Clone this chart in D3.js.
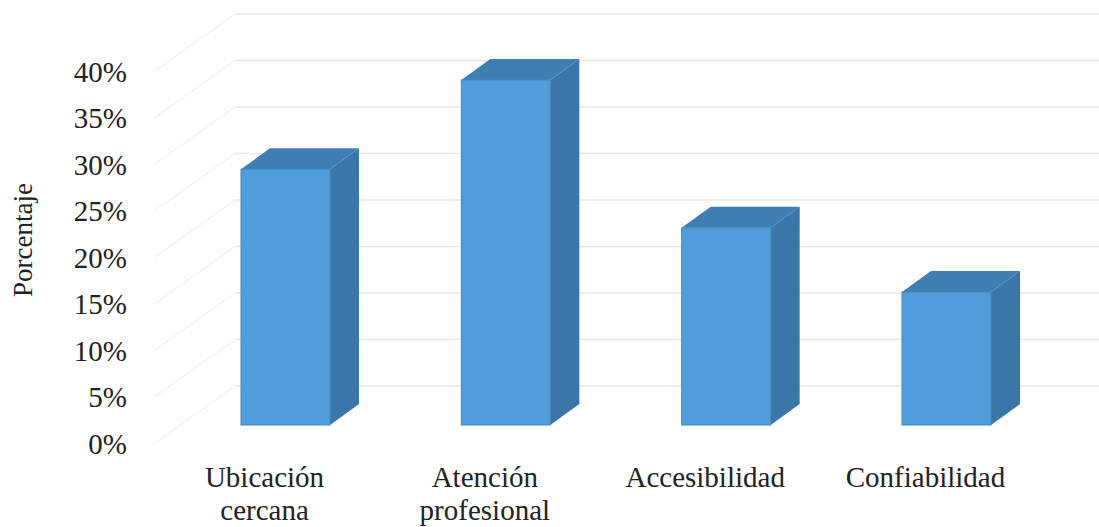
<!DOCTYPE html>
<html>
<head>
<meta charset="utf-8">
<script src="https://cdn.jsdelivr.net/npm/d3@7/dist/d3.min.js"></script>
<style>
html,body{margin:0;padding:0;background:#fff;}
svg{display:block;}
text{font-family:"Liberation Serif",serif;fill:#222;}
</style>
</head>
<body>
<svg id="chart" width="1099" height="527"></svg>
<script>
const categories = ["Ubicación cercana", "Atención profesional", "Accesibilidad", "Confiabilidad"];
const categoryLines = [["Ubicación", "cercana"], ["Atención", "profesional"], ["Accesibilidad"], ["Confiabilidad"]];
const percentages = [27.5, 37.1, 21.2, 14.3];
const tickValues = [0, 5, 10, 15, 20, 25, 30, 35, 40];
const axisTitle = "Porcentaje";

const svg = d3.select("#chart");

// Back wall scale; the bars and floor are projected forward from it.
const wallY = d3.scaleLinear().domain([0, 40]).range([386, 14]);
const x = d3.scaleBand().domain(categories).range([241, 991]).paddingInner(0.596).paddingOuter(0);

const wallLeft = 235, wallRight = 1099;
const floorDx = -80, floorDy = 57;     // oblique shift from the wall to the axis edge
const barOffsetY = 39;                 // front faces sit this far below the wall level
const depthX = 29, depthY = 21;        // depth of each column

// Gridlines across the back wall and down the side wall
const grid = svg.append("g").attr("fill", "none");
grid.selectAll("line.back").data(tickValues).join("line")
  .attr("class", "back")
  .attr("x1", wallLeft).attr("x2", wallRight)
  .attr("y1", d => wallY(d)).attr("y2", d => wallY(d))
  .attr("stroke", "#e9e9e9").attr("stroke-width", 1.5);
grid.selectAll("line.side").data(tickValues).join("line")
  .attr("class", "side")
  .attr("x1", wallLeft).attr("x2", wallLeft + floorDx)
  .attr("y1", d => wallY(d)).attr("y2", d => wallY(d) + floorDy)
  .attr("stroke", "#f4f4f4").attr("stroke-width", 1.5);

// Value axis labels
const axis = d3.axisLeft(wallY).tickValues(tickValues).tickFormat(d => d + "%").tickSize(0);
const axisG = svg.append("g")
  .attr("transform", `translate(127,${floorDy + 1})`)
  .call(axis);
axisG.select(".domain").remove();
axisG.selectAll("text")
  .attr("x", 0)
  .attr("text-anchor", "end")
  .style("font-family", '"Liberation Serif", serif')
  .style("font-size", "29px")
  .attr("fill", "#222");

// Columns: side, top and front faces
const bars = svg.append("g").selectAll("g").data(categories).join("g");
const frontTop = i => wallY(percentages[i]) + barOffsetY;
const frontBottom = wallY(0) + barOffsetY;
const pts = a => a.map(p => p.join(",")).join(" ");

bars.append("polygon")
  .attr("points", (d, i) => {
    const r = x(d) + x.bandwidth();
    return pts([[r, frontTop(i)], [r + depthX, frontTop(i) - depthY], [r + depthX, frontBottom - depthY], [r, frontBottom]]);
  })
  .attr("fill", "#3a77a8");
bars.append("polygon")
  .attr("points", (d, i) => {
    const l = x(d), r = l + x.bandwidth();
    return pts([[l, frontTop(i)], [l + depthX, frontTop(i) - depthY], [r + depthX, frontTop(i) - depthY], [r, frontTop(i)]]);
  })
  .attr("fill", "#3e7eb2");
bars.append("rect")
  .attr("x", d => x(d))
  .attr("y", (d, i) => frontTop(i))
  .attr("width", x.bandwidth())
  .attr("height", (d, i) => frontBottom - frontTop(i))
  .attr("fill", "#509dd9")
  .attr("stroke", "#4488bd")
  .attr("stroke-width", 1);

// Category labels, centred a little left of each column
const labels = svg.append("g").selectAll("text").data(categories).join("text")
  .attr("text-anchor", "middle")
  .style("font-size", "29px")
  .attr("transform", d => `translate(${x(d) + x.bandwidth() / 2 - 21},0)`);
labels.selectAll("tspan").data((d, i) => categoryLines[i]).join("tspan")
  .attr("x", 0)
  .attr("y", (d, i) => 487 + i * 33)
  .text(d => d);

// Axis title
svg.append("text")
  .attr("transform", "translate(32,240) rotate(-90)")
  .attr("text-anchor", "middle")
  .style("font-size", "27px")
  .text(axisTitle);
</script>
</body>
</html>
